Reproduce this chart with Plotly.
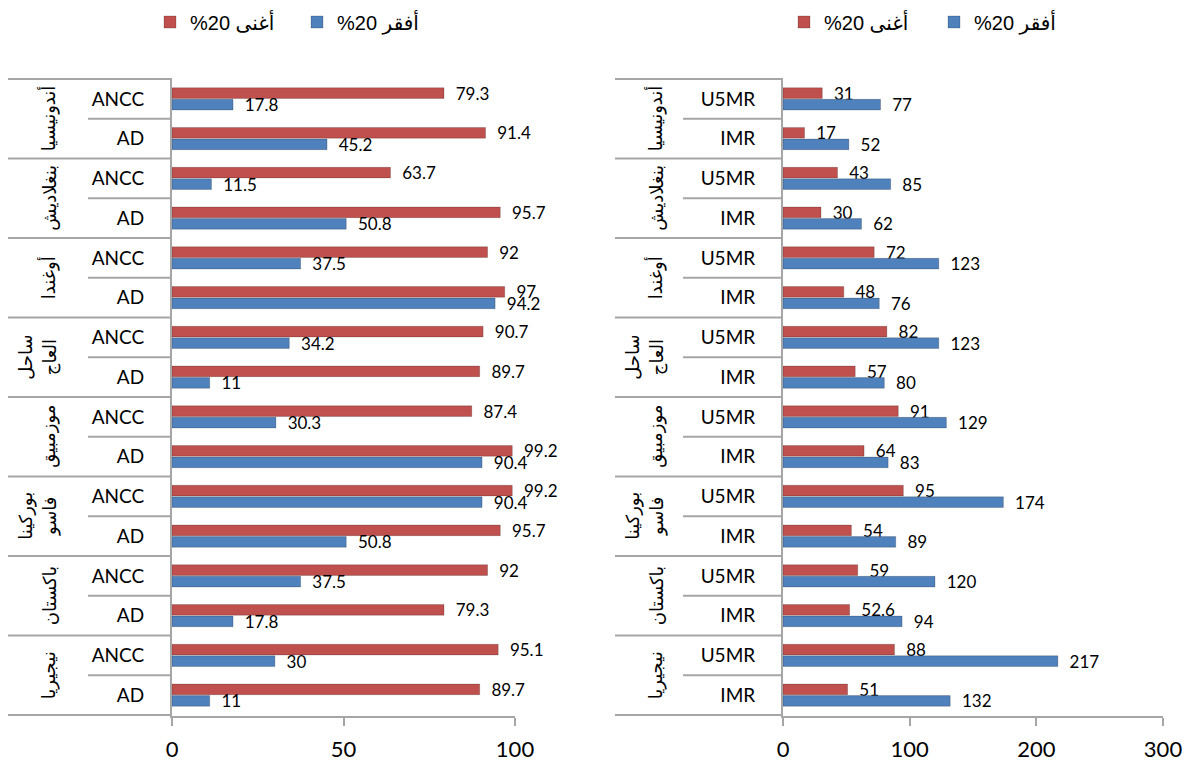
import plotly.graph_objects as go

countries = ["أندونيسيا", "بنغلاديش", "أوغندا", "ساحل<br>العاج", "موزمبيق", "بوركينا<br>فاسو", "باكستان", "نيجيريا"]
left_inds = ["ANCC", "AD"]
right_inds = ["U5MR", "IMR"]

left_rich = [79.3, 91.4, 63.7, 95.7, 92, 97, 90.7, 89.7, 87.4, 99.2, 99.2, 95.7, 92, 79.3, 95.1, 89.7]
left_poor = [17.8, 45.2, 11.5, 50.8, 37.5, 94.2, 34.2, 11, 30.3, 90.4, 90.4, 50.8, 37.5, 17.8, 30, 11]
right_rich = [31, 17, 43, 30, 72, 48, 82, 57, 91, 64, 95, 54, 59, 52.6, 88, 51]
right_poor = [77, 52, 85, 62, 123, 76, 123, 80, 129, 83, 174, 89, 120, 94, 217, 132]

rich_name = "%20 أغنى"
poor_name = "%20 أفقر"
RED = "#C0504D"
BLUE = "#4F81BD"
GRID = "#A6A6A6"

# page has an 8px body margin; work in reference pixel coords and shift
OFF = 8
W, H = 1192 - OFF, 764 - OFF
TOP, BOT = 78, 716          # plot area in reference pixels
LX0, LX1 = 172, 515
RX0, RX1 = 783, 1163
MT = TOP - OFF
MB = H - (BOT - OFF)
PH = BOT - TOP

def cats(inds):
    out, ticks = [], []
    for i, c in enumerate(countries):
        for ind in inds:
            out.append(f"{i}-{ind}")
            ticks.append(ind)
    return out, ticks

lcats, lticks = cats(left_inds)
rcats, rticks = cats(right_inds)

def fmt(v):
    return f"{v:g}"

fig = go.Figure()
lab_font = dict(family="Lato, Liberation Sans, sans-serif", size=17, color="black")

for name, vals, col, ycats, xa, ya, lg in [
    (rich_name, left_rich, RED, lcats, "x", "y", "legend"),
    (poor_name, left_poor, BLUE, lcats, "x", "y", "legend"),
    (rich_name, right_rich, RED, rcats, "x2", "y2", "legend2"),
    (poor_name, right_poor, BLUE, rcats, "x2", "y2", "legend2"),
]:
    fig.add_trace(go.Bar(
        x=vals, y=ycats, orientation="h", name=name,
        marker=dict(color=col, line=dict(color="rgba(0,0,0,0.25)", width=0.8)),
        text=["  " + fmt(v) for v in vals], textposition="outside",
        textfont=lab_font, constraintext="none", cliponaxis=False,
        xaxis=xa, yaxis=ya, legend=lg, hoverinfo="x",
    ))

axfont = dict(family="Lato, Liberation Sans, sans-serif", size=22, color="black")
ytfont = dict(family="Lato, Liberation Sans, sans-serif", size=19, color="black")
legfont = dict(family="Liberation Sans, DejaVu Sans, sans-serif", size=20, color="black")

def px(p):
    return (p - OFF) / W

def dom(a, b):
    return [px(a), px(b)]

leg_y = 1 + (TOP - 22) / PH

fig.update_layout(
    width=W, height=H, margin=dict(l=0, r=0, t=MT, b=MB, autoexpand=False),
    paper_bgcolor="white", plot_bgcolor="white",
    barmode="group", bargap=0.42, bargroupgap=0.08,
    xaxis=dict(domain=dom(LX0, LX1), range=[0, 100], dtick=50, showgrid=False, zeroline=False,
               showline=True, linecolor=GRID, linewidth=2, ticks="outside", tickcolor=GRID,
               ticklen=8, tickwidth=2, tickfont=axfont, anchor="y", ticklabelstandoff=5),
    yaxis=dict(domain=[0, 1], type="category", autorange="reversed", tickvals=lcats, ticktext=lticks,
               showline=True, linecolor=GRID, linewidth=2, ticks="", tickfont=ytfont,
               showgrid=False, anchor="x", ticklabelstandoff=22),
    xaxis2=dict(domain=dom(RX0, RX1), range=[0, 300], dtick=100, showgrid=False, zeroline=False,
                showline=True, linecolor=GRID, linewidth=2, ticks="outside", tickcolor=GRID,
                ticklen=8, tickwidth=2, tickfont=axfont, anchor="y2", ticklabelstandoff=5),
    yaxis2=dict(domain=[0, 1], type="category", autorange="reversed", tickvals=rcats, ticktext=rticks,
                showline=True, linecolor=GRID, linewidth=2, ticks="", tickfont=ytfont,
                showgrid=False, anchor="x2", ticklabelstandoff=22),
    legend=dict(orientation="h", x=px(150), xanchor="left", y=leg_y,
                yanchor="middle", font=legfont, traceorder="normal", itemwidth=30,
                entrywidth=102),
    legend2=dict(orientation="h", x=px(784), xanchor="left", y=leg_y,
                 yanchor="middle", font=legfont, traceorder="normal", itemwidth=30,
                 entrywidth=105),
    showlegend=True,
)

shapes = []
annotations = []
n = len(lcats)
for xref, yref, x0px, x0, xmid, xlab in [
    ("x domain", "y", LX0, 5, 88, 62),
    ("x2 domain", "y2", RX0, 615, 683, 669),
]:
    width = (LX1 - LX0) if xref == "x domain" else (RX1 - RX0)
    fx = lambda p: (p - x0px) / width
    for b in range(0, n + 1):
        yb = b - 0.5
        start = x0 if b % 2 == 0 else xmid
        shapes.append(dict(type="line", xref=xref, yref=yref, x0=fx(start), x1=0, y0=yb, y1=yb,
                           line=dict(color=GRID, width=2)))
    for i, c in enumerate(countries):
        annotations.append(dict(xref=xref, yref=yref, x=fx(xlab), y=2 * i + 0.5, text=c,
                                textangle=-90, xanchor="right", yanchor="middle", showarrow=False,
                                font=dict(family="DejaVu Sans, sans-serif", size=18, color="black")))

fig.update_layout(shapes=shapes, annotations=annotations)
fig.write_html("out.html")
